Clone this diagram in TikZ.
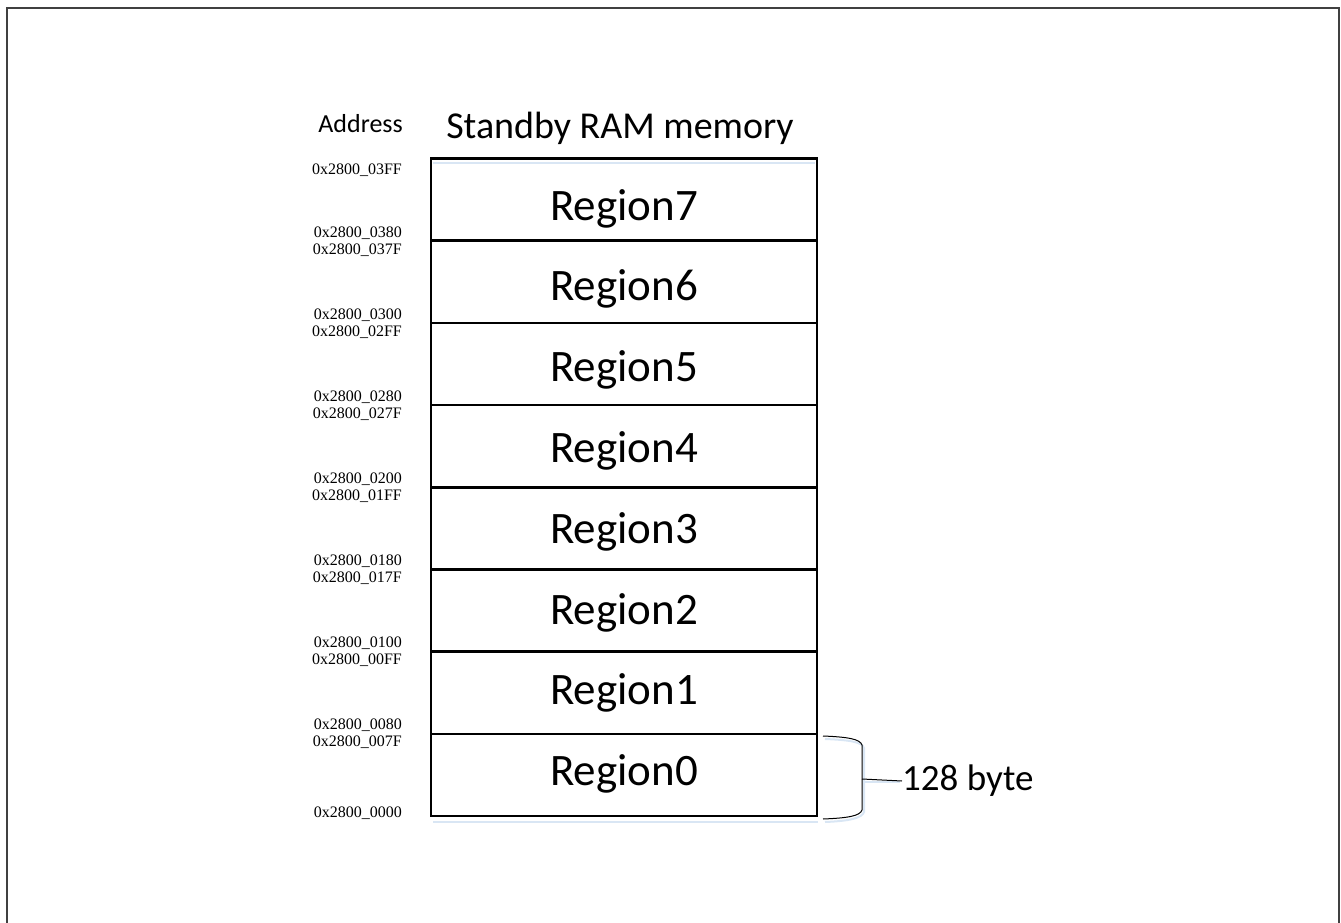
\documentclass[tikz,border=0pt]{standalone}
\usepackage{fontspec}
\setmainfont{Carlito}
\newfontfamily\addrfont{Liberation Serif}
\definecolor{framegray}{HTML}{404040}
\definecolor{shadeblue}{HTML}{D9E6F4}
\begin{document}
\begin{tikzpicture}[x=1pt,y=-1pt,
  regbox/.style={draw=black,line width=2.4pt,minimum width=386pt,minimum height=82pt,inner sep=0pt},
  regtext/.style={inner sep=0pt,font=\fontsize{45}{47}\selectfont},
  addr/.style={anchor=east,inner sep=0pt,font=\addrfont\fontsize{16}{18}\selectfont},
  lbl/.style={inner sep=0pt}]
\useasboundingbox (0,0) rectangle (1341,923);
\begin{scope}
\clip (0,0) rectangle (1341,923);
\draw[framegray,line width=2pt] (6.5,960) -- (6.5,8) -- (1339,8) -- (1339,960);
\end{scope}
% shading lines
\draw[shadeblue,line width=2pt] (433,163) -- (815,163);
\draw[shadeblue,line width=2pt] (433,822) -- (818,822);
% regions
\foreach \i in {0,...,7}{
  \pgfmathsetmacro{\cy}{775-82.2*\i}
  \pgfmathsetmacro{\ty}{774-80.8*\i}
  \node[regbox] (r\i) at (624,\cy) {};
  \node[regtext] (t\i) at (624,\ty) {Region\i};
}
\node[lbl,font=\fontsize{38}{40}\selectfont,anchor=base] (title) at (620,139) {Standby RAM memory};
\node[lbl,font=\fontsize{26}{28}\selectfont,anchor=base east] (addrh) at (403,133) {Address};
% addresses
\node[addr] (a7h) at (402,170) {0x2800\_03FF};
\node[addr] (a7l) at (402,233) {0x2800\_0380};
\node[addr] (a6h) at (402,250) {0x2800\_037F};
\node[addr] (a6l) at (402,315) {0x2800\_0300};
\node[addr] (a5h) at (402,332) {0x2800\_02FF};
\node[addr] (a5l) at (402,397) {0x2800\_0280};
\node[addr] (a4h) at (402,414) {0x2800\_027F};
\node[addr] (a4l) at (402,479) {0x2800\_0200};
\node[addr] (a3h) at (402,496) {0x2800\_01FF};
\node[addr] (a3l) at (402,561) {0x2800\_0180};
\node[addr] (a2h) at (402,578) {0x2800\_017F};
\node[addr] (a2l) at (402,643) {0x2800\_0100};
\node[addr] (a1h) at (402,660) {0x2800\_00FF};
\node[addr] (a1l) at (402,725) {0x2800\_0080};
\node[addr] (a0h) at (402,742) {0x2800\_007F};
\node[addr] (a0l) at (402,813) {0x2800\_0000};
% brace
\coordinate (bt) at (823,736);
\coordinate (bb) at (823,819);
\coordinate (bm) at (862,779);
\draw[shadeblue,line width=2pt] ([shift={(2,3)}]bt) .. controls (850,740) and (862,742) .. (864,748) -- (864,812) .. controls (862,818) and (850,821) .. ([shift={(2,3)}]bb);
\draw[shadeblue,line width=2pt] (864,782) -- (900,782);
\draw[black,line width=1pt] (bt) .. controls (848,737) and (860,739) .. (862,745) -- (862,810) .. controls (860,816) and (848,818) .. (bb);
\node[lbl,font=\fontsize{37}{39}\selectfont,anchor=west] (bytes) at (902,781) {128 byte};
\draw[black,line width=1pt] (bm) -- (bytes.west);
\end{tikzpicture}
\end{document}
